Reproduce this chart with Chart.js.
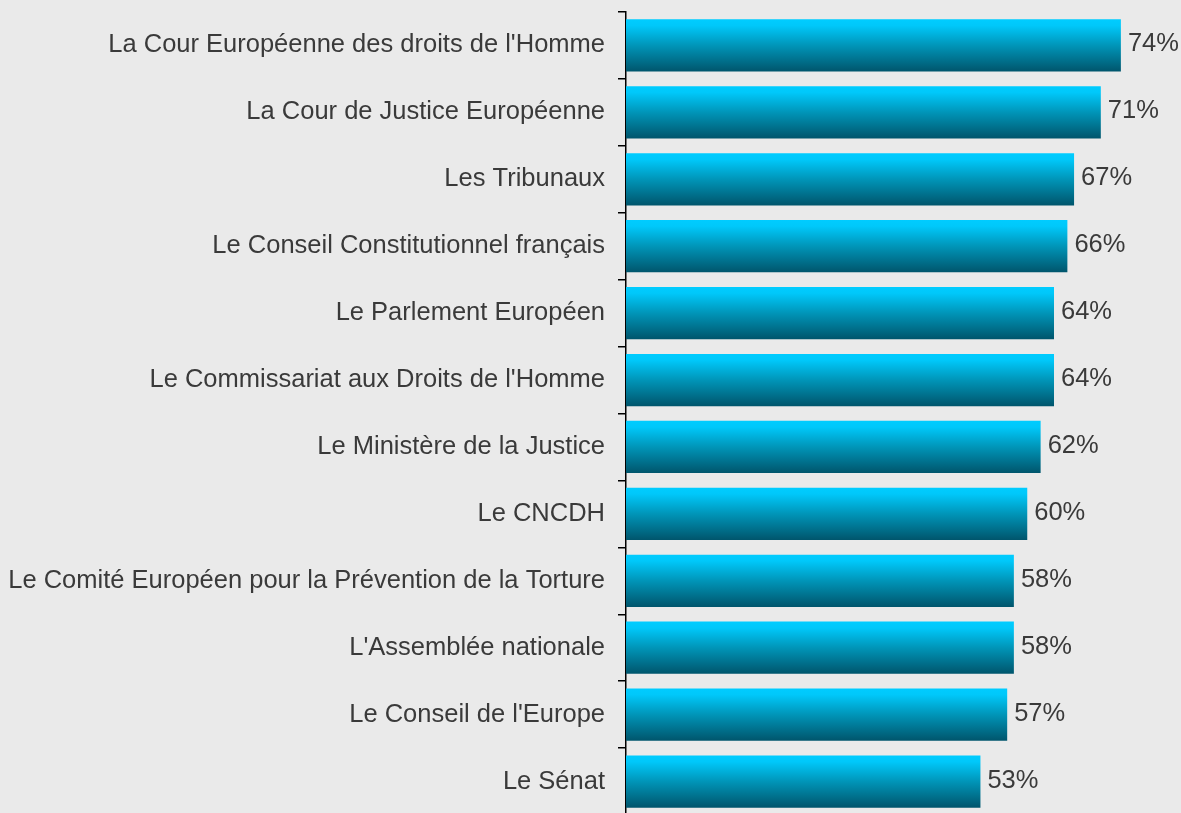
<!DOCTYPE html>
<html>
<head>
<meta charset="utf-8">
<script src="https://cdn.jsdelivr.net/npm/chart.js@4.4.0/dist/chart.umd.min.js"></script>
<style>
  html, body { margin: 0; padding: 0; background: #eaeaea; overflow: hidden; }
  #plot { display: block; }
</style>
</head>
<body>
<canvas id="plot" width="1181" height="818"></canvas>
<script>
// Values
const categories = [
    "La Cour Européenne des droits de l'Homme",
    "La Cour de Justice Européenne",
    "Les Tribunaux",
    "Le Conseil Constitutionnel français",
    "Le Parlement Européen",
    "Le Commissariat aux Droits de l'Homme",
    "Le Ministère de la Justice",
    "Le CNCDH",
    "Le Comité Européen pour la Prévention de la Torture",
    "L'Assemblée nationale",
    "Le Conseil de l'Europe",
    "Le Sénat"
];
const values = [74, 71, 67, 66, 64, 64, 62, 60, 58, 58, 57, 53];
const valueSuffix = '%';

const BAR_PCT = 0.78;
const FONT = "'Liberation Sans', Arial, sans-serif";

// vertical gradient per bar, from the y scale
function barGradient(context) {
    const chart = context.chart;
    const yScale = chart.scales.y;
    if (!yScale || context.dataIndex === undefined) return '#00ccff';
    const center = yScale.getPixelForValue(context.dataIndex);
    const step = yScale.getPixelForValue(1) - yScale.getPixelForValue(0);
    const h = step * BAR_PCT;
    if (!isFinite(center) || !isFinite(h)) return '#00ccff';
    const g = chart.ctx.createLinearGradient(0, center - h / 2, 0, center + h / 2);
    g.addColorStop(0, '#00ccff');
    g.addColorStop(0.12, '#00c8fa');
    g.addColorStop(0.5, '#0095b8');
    g.addColorStop(1, '#00556c');
    return g;
}

// value labels at the end of each bar
const valueLabels = {
    id: 'valueLabels',
    afterDatasetsDraw(chart) {
        const ctx = chart.ctx;
        const meta = chart.getDatasetMeta(0);
        ctx.save();
        ctx.font = '25.5px ' + FONT;
        ctx.fillStyle = '#3a3a3a';
        ctx.textAlign = 'left';
        ctx.textBaseline = 'middle';
        meta.data.forEach((bar, i) => {
            ctx.fillText(values[i] + valueSuffix, bar.x + 7, bar.y - 1);
        });
        ctx.restore();
    }
};

const ctx = document.getElementById('plot');
const plot = new Chart(ctx, {
    type: 'bar',
    data: {
        labels: categories,
        datasets: [{
            data: values,
            backgroundColor: barGradient,
            borderWidth: 0,
            barPercentage: BAR_PCT,
            categoryPercentage: 1
        }]
    },
    plugins: [valueLabels],
    options: {
        indexAxis: 'y',
        responsive: false,
        animation: false,
        layout: { padding: { top: 12, bottom: 3, left: 0, right: 20 } },
        plugins: {
            legend: { display: false },
            tooltip: { enabled: false }
        },
        scales: {
            x: {
                display: false,
                min: 0,
                max: 80
            },
            y: {
                afterFit(scale) {
                    scale.width = 626;
                    scale.paddingTop = 0;
                    scale.paddingBottom = 0;
                },
                border: { display: true, color: '#000', width: 1.5 },
                grid: {
                    display: true,
                    offset: true,
                    drawOnChartArea: false,
                    drawTicks: true,
                    tickLength: 8,
                    color: '#000',
                    lineWidth: 1.5
                },
                ticks: {
                    padding: 13,
                    color: '#3a3a3a',
                    font: { family: FONT, size: 25.5 }
                }
            }
        }
    }
});
</script>
</body>
</html>
